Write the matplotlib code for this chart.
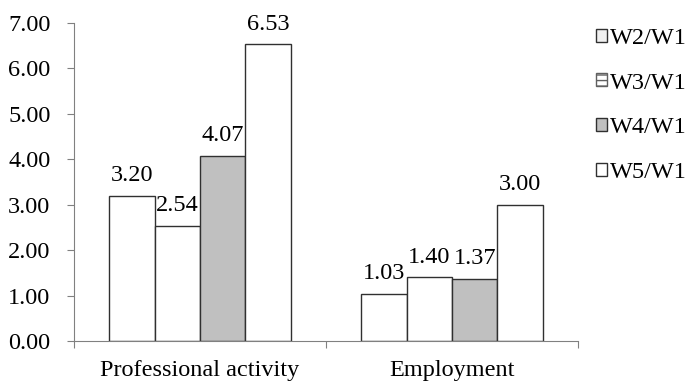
import numpy as np
import matplotlib.pyplot as plt
from matplotlib.patches import Patch

plt.rcParams['font.family'] = ['Liberation Serif', 'DejaVu Serif']

categories = ['Professional activity', 'Employment']
series = ['W2/W1', 'W3/W1', 'W4/W1', 'W5/W1']
w2 = [3.20, 1.03]
w3 = [2.54, 1.40]
w4 = [4.07, 1.37]
w5 = [6.53, 3.00]
values = [w2, w3, w4, w5]

faces = ['white', 'white', '#c0c0c0', 'white']
edge = '#303030'
axis_col = '#808080'
fs = 17.5

fig = plt.figure(figsize=(6.9, 3.82), dpi=100)
ax = fig.add_axes([74 / 690, 1 - 341 / 382, 504 / 690, 318 / 382])

x = np.arange(len(categories))
w = 0.18
for k, vals in enumerate(values):
    pos = x + (k - 1.5) * w
    ax.bar(pos, vals, width=w, color=faces[k], edgecolor=edge, linewidth=1.0)
    for px, v in zip(pos, vals):
        ax.annotate('%.2f' % v, (px, v), xytext=(0, 7), textcoords='offset points',
                    ha='center', va='bottom', fontsize=fs)

ax.set_xlim(-0.5, 1.5)
ax.set_ylim(0, 7)
ax.set_yticks(np.arange(0, 8, 1))
ax.set_yticklabels(['%.2f' % t for t in range(8)], fontsize=fs)
ax.set_xticks([-0.5, 0.5, 1.5])
ax.set_xticklabels([])
ax.set_xticks(x, minor=True)
ax.set_xticklabels(categories, minor=True, fontsize=fs)
ax.tick_params(axis='x', which='minor', length=0, pad=14)
ax.tick_params(axis='x', which='major', length=5, color=axis_col)
ax.tick_params(axis='y', length=5, color=axis_col, pad=12)

for s in ['top', 'right']:
    ax.spines[s].set_visible(False)
for s in ['left', 'bottom']:
    ax.spines[s].set_color(axis_col)

# legend swatches: W2 light shade, W3 striped
handles = [
    Patch(facecolor='#f0f0f0', edgecolor=edge, label=series[0]),
    Patch(facecolor='white', edgecolor='#606060', hatch='---', label=series[1]),
    Patch(facecolor='#c0c0c0', edgecolor=edge, label=series[2]),
    Patch(facecolor='white', edgecolor=edge, label=series[3]),
]
fig.legend(handles=handles, loc='upper left', bbox_to_anchor=(596 / 690, 1 - 28 / 382),
           frameon=False, fontsize=fs, handlelength=0.45, handleheight=0.45,
           handletextpad=0.12, labelspacing=0.97, borderpad=0, borderaxespad=0)

fig.savefig('out.png', dpi=100)
